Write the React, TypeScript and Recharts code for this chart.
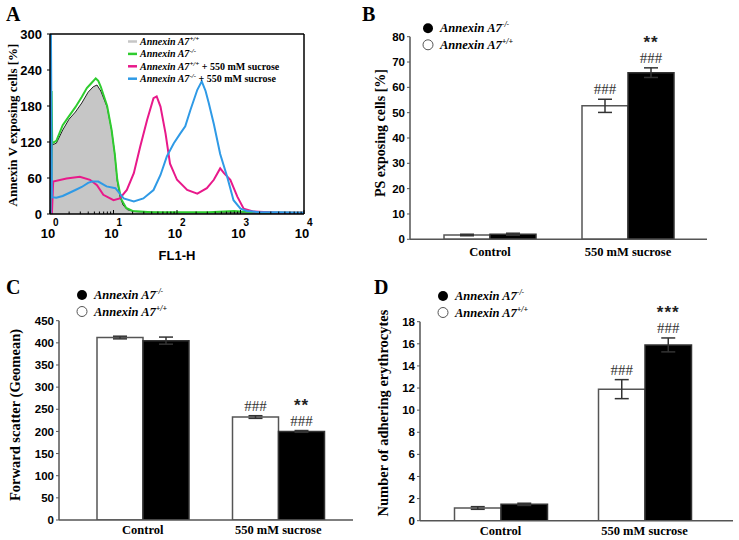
import React from "react";
import {
  ComposedChart, Area, Line, BarChart, Bar, XAxis, YAxis, ErrorBar, LabelList,
} from "recharts";

const SANS = "'Liberation Sans', Arial, sans-serif";
const SERIF = "'Liberation Serif', 'Times New Roman', serif";

// ---- Panel A: FL1-H histograms (x = log10 of fluorescence) ----
const histMajorTicks = [0, 1, 2, 3, 4];
const histMinorSteps = [2, 3, 4, 5, 6, 7, 8, 9];
const histYTicks = [0, 60, 120, 180, 240, 300];

const wtCtrlX = [0.02, 0.03, 0.1, 0.2, 0.3, 0.4, 0.5, 0.6, 0.68, 0.74, 0.8, 0.9, 0.97, 1.02, 1.06, 1.1, 1.15, 1.22, 1.35, 1.6, 2.0, 2.5, 3.0, 3.5, 4.0];
const wtCtrlY = [0, 115, 118, 140, 158, 170, 185, 203, 212, 215, 205, 178, 140, 100, 55, 30, 15, 7, 4, 3, 2, 2, 2, 1, 1];

const koCtrlX = [0.02, 0.025, 0.035, 0.1, 0.2, 0.3, 0.4, 0.5, 0.58, 0.65, 0.72, 0.76, 0.8, 0.9, 0.97, 1.02, 1.06, 1.12, 1.2, 1.3, 1.6, 2.0, 2.5, 2.9, 3.0, 3.5, 4.0];
const koCtrlY = [0, 205, 118, 122, 148, 163, 178, 195, 210, 218, 226, 222, 212, 180, 140, 100, 57, 25, 10, 5, 3, 3, 3, 5, 4, 2, 2];

const wtSucX = [0.03, 0.05, 0.26, 0.47, 0.63, 0.74, 0.84, 1.0, 1.1, 1.21, 1.32, 1.42, 1.53, 1.63, 1.68, 1.74, 1.82, 1.89, 2.0, 2.16, 2.32, 2.47, 2.58, 2.68, 2.74, 2.84, 2.95, 3.05, 3.21, 3.6, 4.0];
const wtSucY = [0, 54, 59, 62, 57, 48, 32, 23, 26, 40, 68, 112, 157, 193, 196, 179, 134, 84, 57, 40, 34, 43, 57, 76, 68, 57, 29, 9, 4, 2, 2];

const koSucX = [0.01, 0.015, 0.03, 0.1, 0.2, 0.3, 0.4, 0.5, 0.6, 0.66, 0.76, 0.89, 1.03, 1.16, 1.32, 1.47, 1.63, 1.74, 1.84, 1.95, 2.05, 2.13, 2.21, 2.32, 2.39, 2.45, 2.5, 2.58, 2.68, 2.79, 2.89, 3.0, 3.1, 3.3, 3.6, 4.0];
const koSucY = [0, 300, 28, 27, 30, 35, 40, 45, 52, 54, 54, 46, 43, 26, 21, 26, 40, 65, 96, 118, 134, 146, 173, 207, 221, 205, 185, 150, 100, 62, 23, 9, 5, 3, 3, 2];

// ---- Panels B-D: bar charts ----
const categories = ["Control", "550 mM sucrose"];

const psWT = [1.7, 52.7];
const psWTErr = [0.3, 2.6];
const psKO = [2.0, 65.8];
const psKOErr = [0.4, 1.9];
const psHashWT = ["", "###"];
const psHashKO = ["", "###"];
const psStars = ["", "**"];
const psTicks = [0, 10, 20, 30, 40, 50, 60, 70, 80];

const fscWT = [412, 232.5];
const fscWTErr = [3, 3];
const fscKO = [405, 200];
const fscKOErr = [8, 2];
const fscHashWT = ["", "###"];
const fscHashKO = ["", "###"];
const fscStars = ["", "**"];
const fscTicks = [0, 50, 100, 150, 200, 250, 300, 350, 400, 450];

const adhWT = [1.15, 11.9];
const adhWTErr = [0.12, 0.86];
const adhKO = [1.48, 15.9];
const adhKOErr = [0.1, 0.63];
const adhHashWT = ["", "###"];
const adhHashKO = ["", "###"];
const adhStars = ["", "***"];
const adhTicks = [0, 2, 4, 6, 8, 10, 12, 14, 16, 18];

const toPoints = (xs: number[], ys: number[]) => xs.map((x, i) => ({ x, y: ys[i] }));

const buildRows = (wt, wtErr, ko, koErr, hashWT, hashKO, stars) =>
  categories.map((name, i) => ({
    name, wt: wt[i], wtErr: wtErr[i], ko: ko[i], koErr: koErr[i],
    hashWT: hashWT[i], hashKO: hashKO[i], stars: stars[i],
  }));

const histTicks = [
  ...histMajorTicks,
  ...histMajorTicks.slice(0, -1).flatMap((d) => histMinorSteps.map((k) => d + Math.log10(k))),
].sort((a, b) => a - b);

// log axis tick: "10" with exponent, ticks pointing into the plot
const LogTick = (props: any) => {
  const { x, y, payload } = props;
  const v = payload.value;
  const major = Math.abs(v - Math.round(v)) < 1e-9;
  return (
    <g>
      <line x1={x} y1={y} x2={x} y2={y - (major ? 4 : 2.5)} stroke="#000" strokeWidth={1} />
      {major && (
        <text x={x - 2} y={y + 24} textAnchor="middle" fontFamily={SANS} fontWeight="bold" fontSize={13} fill="#000">
          10
        </text>
      )}
      {major && (
        <text x={x + 3} y={y + 12} fontFamily={SANS} fontWeight="bold" fontSize={10} fill="#000">
          {Math.round(v)}
        </text>
      )}
    </g>
  );
};

function HistPanel() {
  return (
    <div style={{ position: "absolute", left: 0, top: 0 }}>
      <ComposedChart width={370} height={270} margin={{ top: 33, right: 65, bottom: 26, left: 5 }}>
        <XAxis xAxisId="b" type="number" dataKey="x" domain={[0, 4]} ticks={histTicks} interval={0}
          tick={LogTick} tickLine={false} tickSize={0} tickMargin={0} height={30} allowDataOverflow
          axisLine={{ stroke: "#000", strokeWidth: 1.5 }} />
        <XAxis xAxisId="t" orientation="top" type="number" dataKey="x" domain={[0, 4]} tick={false}
          tickLine={false} height={1} axisLine={{ stroke: "#000", strokeWidth: 1.5 }} />
        <YAxis yAxisId="l" type="number" domain={[0, 300]} ticks={histYTicks} interval={0} width={45}
          tickSize={3} tickMargin={5} allowDataOverflow
          tick={{ fontFamily: SANS, fontWeight: "bold", fontSize: 13, fill: "#000" }}
          tickLine={{ stroke: "#000" }} axisLine={{ stroke: "#000", strokeWidth: 1.5 }} />
        <YAxis yAxisId="r" orientation="right" type="number" domain={[0, 300]} tick={false} tickLine={false}
          width={1} axisLine={{ stroke: "#000", strokeWidth: 1.5 }} />
        <Area xAxisId="b" yAxisId="l" data={toPoints(wtCtrlX, wtCtrlY)} dataKey="y" type="linear"
          fill="#c6c6c6" fillOpacity={1} stroke="#222" strokeWidth={1} isAnimationActive={false} />
        <Line xAxisId="b" yAxisId="l" data={toPoints(koCtrlX, koCtrlY)} dataKey="y" type="linear"
          stroke="#2fcc2f" strokeWidth={2} dot={false} isAnimationActive={false} />
        <Line xAxisId="b" yAxisId="l" data={toPoints(wtSucX, wtSucY)} dataKey="y" type="linear"
          stroke="#e8198a" strokeWidth={2} dot={false} isAnimationActive={false} />
        <Line xAxisId="b" yAxisId="l" data={toPoints(koSucX, koSucY)} dataKey="y" type="linear"
          stroke="#2f9ae6" strokeWidth={2} dot={false} isAnimationActive={false} />
      </ComposedChart>
    </div>
  );
}

const makeAnnot = (rows, which: "wt" | "ko") => (props: any) => {
  const { x, y, width, height, index } = props;
  const row = rows[index];
  if (!row) return null;
  const val = which === "wt" ? row.wt : row.ko;
  const err = which === "wt" ? row.wtErr : row.koErr;
  const hash = which === "wt" ? row.hashWT : row.hashKO;
  const star = which === "ko" ? row.stars : "";
  if (!hash && !star) return null;
  const h = Math.abs(Number(height));
  const errPx = val ? (err * h) / val : 0;
  const cx = Number(x) + Number(width) / 2;
  const cy = Number(y) - errPx - 10;
  return (
    <g>
      {hash && (
        <text x={cx} y={cy} textAnchor="middle" dominantBaseline="central" fontFamily={SERIF}
          fontSize={15} fill="#333">{hash}</text>
      )}
      {star && (
        <text x={cx} y={cy - 15} textAnchor="middle" dominantBaseline="central" fontFamily={SANS}
          fontWeight="bold" fontSize={17} letterSpacing={1} fill="#222">{star}</text>
      )}
    </g>
  );
};

function BarPanel({ left, top, width, height, margin, rows, domain, ticks, padding, barSize, xTickSize, yWidth, xHeight }) {
  return (
    <div style={{ position: "absolute", left, top }}>
      <BarChart width={width} height={height} data={rows} margin={margin} barGap={0} barSize={barSize}>
        <XAxis dataKey="name" padding={padding} height={xHeight} tickLine={false} tickSize={xTickSize} tickMargin={0}
          interval={0} axisLine={{ stroke: "#555", strokeWidth: 1.5 }}
          tick={{ fontFamily: SERIF, fontWeight: "bold", fontSize: 12.5, fill: "#000" }} />
        <YAxis type="number" domain={domain} ticks={ticks} interval={0} width={yWidth} tickSize={3} tickMargin={2}
          allowDataOverflow tick={{ fontFamily: SANS, fontWeight: "bold", fontSize: 11.5, fill: "#000" }}
          tickLine={{ stroke: "#555" }} axisLine={{ stroke: "#555", strokeWidth: 1.5 }} />
        <Bar dataKey="wt" fill="#fff" stroke="#555" strokeWidth={1.5} isAnimationActive={false}>
          <ErrorBar dataKey="wtErr" width={7} stroke="#333" strokeWidth={1.5} />
          <LabelList dataKey="hashWT" content={makeAnnot(rows, "wt")} />
        </Bar>
        <Bar dataKey="ko" fill="#000" stroke="#333" strokeWidth={1.5} isAnimationActive={false}>
          <ErrorBar dataKey="koErr" width={7} stroke="#333" strokeWidth={1.5} />
          <LabelList dataKey="hashKO" content={makeAnnot(rows, "ko")} />
        </Bar>
      </BarChart>
    </div>
  );
}

const Sup = ({ children }) => (
  <tspan dy={-5} fontSize={8}>{children}</tspan>
);

function DotLegend({ x, y }) {
  return (
    <g fontFamily={SERIF} fontWeight="bold" fontStyle="italic" fontSize={12.5} fill="#000">
      <circle cx={x} cy={y} r={5} fill="#000" />
      <text x={x + 12} y={y + 4}>Annexin A7<Sup>-/-</Sup></text>
      <circle cx={x} cy={y + 16.5} r={5} fill="#fff" stroke="#555" strokeWidth={1} />
      <text x={x + 12} y={y + 20.5}>Annexin A7<Sup>+/+</Sup></text>
    </g>
  );
}

const histLegend = [
  { color: "#c6c6c6", sup: "+/+", extra: "" },
  { color: "#2fcc2f", sup: "-/-", extra: "" },
  { color: "#e8198a", sup: "+/+", extra: " + 550 mM sucrose" },
  { color: "#2f9ae6", sup: "-/-", extra: " + 550 mM sucrose" },
];

function Overlay() {
  const vLabel = (cx, cy, size, label) => (
    <text x={cx} y={cy} transform={`rotate(-90 ${cx} ${cy})`} textAnchor="middle" dominantBaseline="central"
      fontFamily={SERIF} fontWeight="bold" fontSize={size} fill="#000">{label}</text>
  );
  return (
    <svg width={739} height={540} style={{ position: "absolute", left: 0, top: 0, pointerEvents: "none" }}>
      <g fontFamily={SERIF} fontWeight="bold" fontSize={20} fill="#000">
        <text x={6} y={21}>A</text>
        <text x={362} y={21}>B</text>
        <text x={6} y={294}>C</text>
        <text x={374} y={294}>D</text>
      </g>
      {vLabel(12, 125, 13, "Annexin V exposing cells [%]")}
      {vLabel(380, 133, 14, "PS exposing cells [%]")}
      {vLabel(15, 415, 14.5, "Forward scatter (Geomean)")}
      {vLabel(383, 413, 14.5, "Number of adhering erythrocytes")}
      <text x={177} y={260} textAnchor="middle" fontFamily={SANS} fontWeight="bold" fontSize={13}>FL1-H</text>
      {histLegend.map((e, i) => (
        <g key={i}>
          <line x1={128} x2={137} y1={41.5 + i * 12.4} y2={41.5 + i * 12.4} stroke={e.color} strokeWidth={2.5} />
          <text x={140} y={45 + i * 12.4} fontFamily={SERIF} fontWeight="bold" fontSize={10} fill="#000">
            <tspan fontStyle="italic">Annexin A7</tspan>
            <tspan dy={-4} fontSize={7} fontStyle="italic">{e.sup}</tspan>
            <tspan dy={4}>{e.extra}</tspan>
          </text>
        </g>
      ))}
      <DotLegend x={428} y={28.3} />
      <DotLegend x={82} y={295} />
      <DotLegend x={443} y={296} />
    </svg>
  );
}

export default function App() {
  const psRows = buildRows(psWT, psWTErr, psKO, psKOErr, psHashWT, psHashKO, psStars);
  const fscRows = buildRows(fscWT, fscWTErr, fscKO, fscKOErr, fscHashWT, fscHashKO, fscStars);
  const adhRows = buildRows(adhWT, adhWTErr, adhKO, adhKOErr, adhHashWT, adhHashKO, adhStars);
  return (
    <div style={{ position: "absolute", left: 0, top: 0, width: 739, height: 540, background: "#fff" }}>
      <HistPanel />
      <BarPanel left={370} top={0} width={369} height={270} rows={psRows} domain={[0, 80]} ticks={psTicks}
        margin={{ top: 36.7, right: 32, bottom: 8.7, left: 5 }} padding={{ left: 11, right: 10 }}
        barSize={46} xTickSize={8} yWidth={35} xHeight={22} />
      <BarPanel left={0} top={270} width={370} height={270} rows={fscRows} domain={[0, 450]} ticks={fscTicks}
        margin={{ top: 50.7, right: 17, bottom: 0, left: 9 }} padding={{ left: 16, right: 7 }}
        barSize={46} xTickSize={5} yWidth={50} xHeight={20} />
      <BarPanel left={370} top={270} width={369} height={270} rows={adhRows} domain={[0, 18]} ticks={adhTicks}
        margin={{ top: 51.7, right: 6, bottom: 0, left: 10 }} padding={{ left: 8.5, right: 16.5 }}
        barSize={46.5} xTickSize={5} yWidth={40} xHeight={19.3} />
      <Overlay />
    </div>
  );
}
